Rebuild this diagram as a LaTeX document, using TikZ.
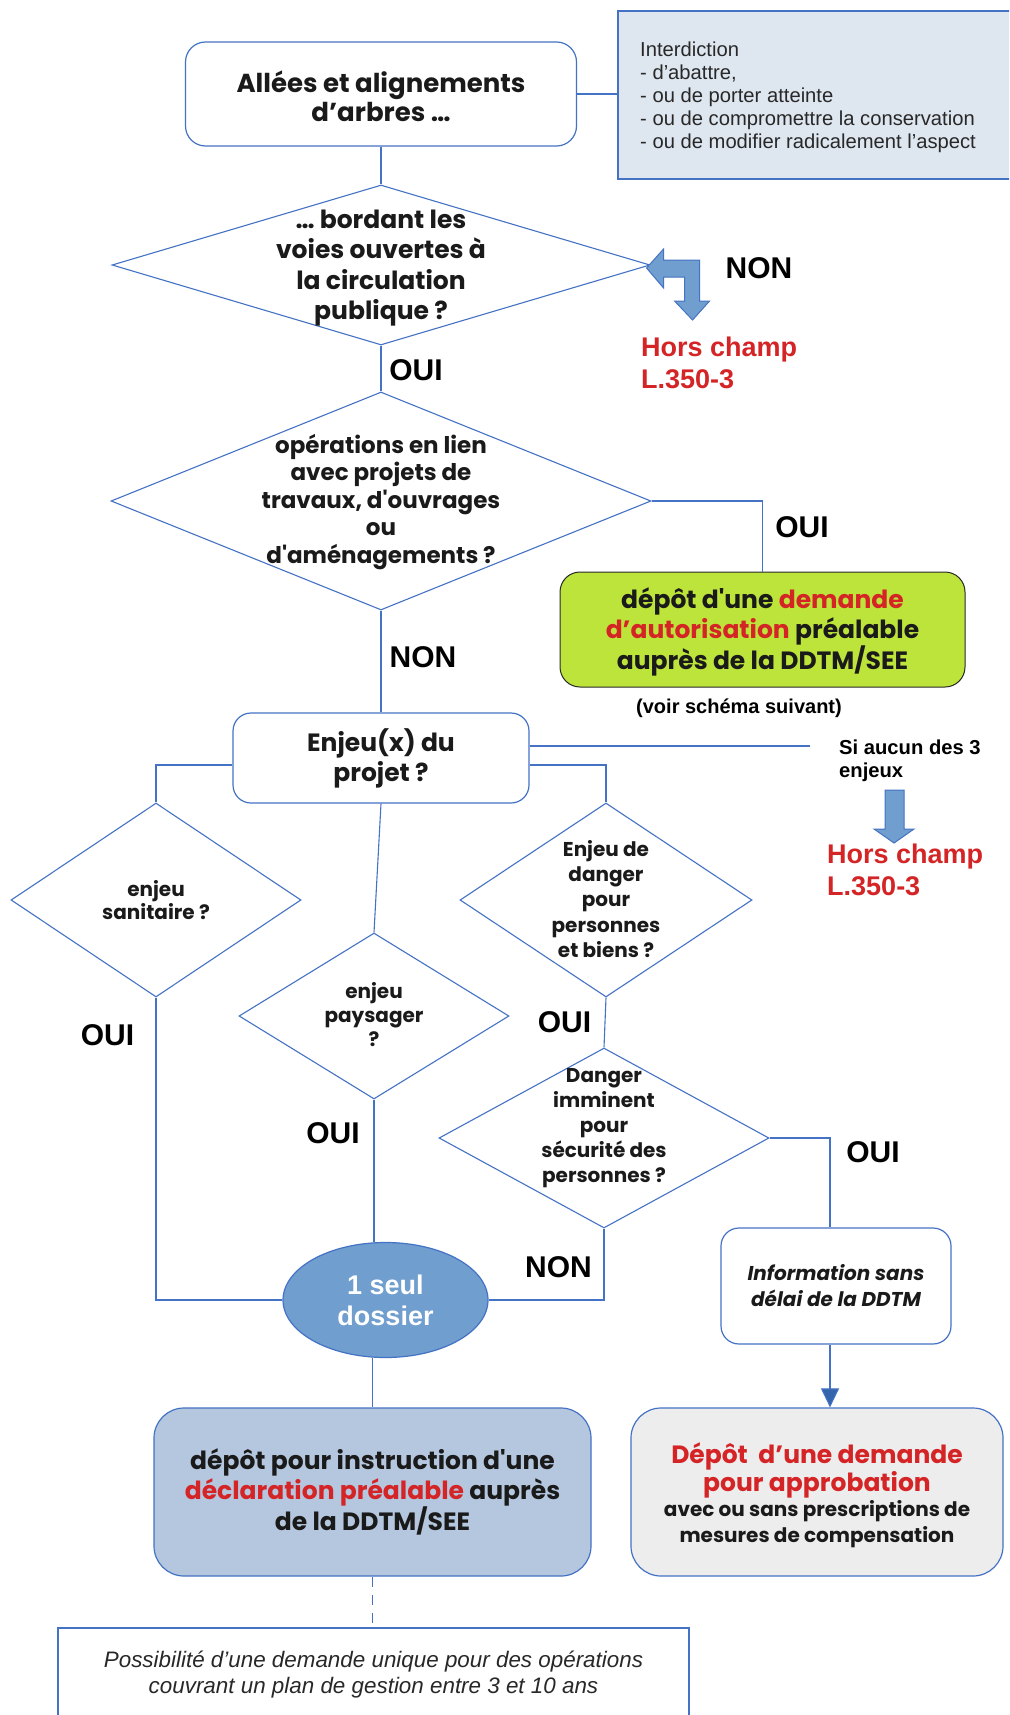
\documentclass[tikz,border=0pt]{standalone}
\usepackage{fontspec}
\setmainfont{Liberation Sans}
\newfontfamily\mar{Poppins}
\usetikzlibrary{shapes.geometric,arrows.meta,calc}
\newcommand{\fsz}[2]{\fontsize{#1}{#2}\selectfont}
\definecolor{lb}{RGB}{68,114,196}
\definecolor{rd}{RGB}{212,36,38}
\definecolor{gr}{RGB}{189,228,58}
\definecolor{ell}{RGB}{112,158,207}
\definecolor{dec}{RGB}{180,199,223}
\definecolor{gy}{RGB}{237,237,237}
\definecolor{intf}{RGB}{222,230,240}
\definecolor{txt}{RGB}{26,26,26}
\definecolor{dk}{RGB}{40,40,40}
\definecolor{tipc}{RGB}{52,100,172}
\begin{document}
\begin{tikzpicture}[x=1pt,y=-1pt,
  ln/.style={draw=lb, line width=1.1pt},
  dia/.style={diamond, draw=lb, line width=1.1pt, inner sep=0pt},
  rbox/.style={rectangle, draw=lb, line width=1.2pt, inner sep=0pt, align=center},
  mtxt/.style={inner sep=0pt, align=center, text=txt},
  yn/.style={inner sep=0pt, text=black, font=\fsz{30}{34}\bfseries},
  hc/.style={inner sep=0pt, align=left, text=rd, anchor=west, font=\fsz{27}{32}\bfseries},
  blk/.style={fill=ell, draw=lb, line width=1pt}]
\useasboundingbox (0,0) rectangle (1009,1715);
\clip (0,0) rectangle (1009,1715);
\fill[white] (0,0) rectangle (1009,1715);

% top box and interdiction
\node[rbox, rounded corners=20pt, minimum width=391pt, minimum height=104pt, fill=white] (top) at (381,94) {};
\node[mtxt, font=\mar\bfseries\fsz{26}{29}] (topt) at (381,96) {Allées et alignements\\d’arbres …};
\node[rectangle, draw=lb, line width=1.2pt, fill=intf, minimum width=393pt, minimum height=168pt, inner sep=0pt] (int) at (814.5,95) {};
\node[inner sep=0pt, anchor=west, align=left, font=\fsz{20.2}{23}, text={rgb,255:red,40;green,40;blue,40}]
  (intt) at (640,97.5) {Interdiction\\- d’abattre,\\- ou de porter atteinte\\- ou de compromettre la conservation\\- ou de modifier radicalement l’aspect};
\draw[ln] (top.east) -- (top.east -| int.west);

% diamond 1
\node[dia, minimum width=538pt, minimum height=160pt] (d1) at (381,265) {};
\node[mtxt, font=\mar\bfseries\fsz{25}{30.2}] (d1t) at (381,268) {… bordant les\\voies ouvertes à\\la circulation\\publique ?};
\draw[ln] (top.south) -- (d1.north);
\draw[blk] ($(d1.east)+(-4,3)$) -- ++(17,-19) -- ++(0,11) -- ++(36,0) -- ++(0,41) -- ++(10,0)
  -- ++(-17,19) -- ++(-18,-19) -- ++(10,0) -- ++(0,-24) -- ++(-21,0) -- ++(0,11) -- cycle;
\node[yn] (non1) at (759,268) {NON};
\node[hc] (hc1) at (641,363) {Hors champ\\L.350-3};
\node[yn] (oui1) at (416,370) {OUI};

% diamond 2
\node[dia, minimum width=540pt, minimum height=218pt] (d2) at (381,501) {};
\node[mtxt, font=\mar\bfseries\fsz{23}{27.5}] (d2t) at (381,502) {opérations en lien\\avec projets de\\travaux, d'ouvrages\\ou\\d'aménagements ?};
\draw[ln] (d1.south) -- (d2.north);

% autorisation
\node[rbox, draw=dk, line width=1pt, rounded corners=20pt, fill=gr, minimum width=405pt, minimum height=115pt] (aut) at (762.5,629.5) {};
\node[mtxt, font=\mar\bfseries\fsz{25}{30}] (autt) at (762.5,632)
  {dépôt d'une \textcolor{rd}{demande}\\\textcolor{rd}{d’autorisation} préalable\\auprès de la DDTM/SEE};
\draw[ln] (d2.east) -| (aut.north);
\node[yn] (oui2) at (802,527) {OUI};
\node[inner sep=0pt, font=\fsz{20}{23}\bfseries] (voir) at (739,708) {(voir schéma suivant)};

% enjeu box
\node[rbox, rounded corners=18pt, minimum width=296pt, minimum height=90pt, fill=white,
  font=\mar\bfseries\fsz{25}{30}, text=txt] (enj) at (381,758) {Enjeu(x) du\\projet ?};
\draw[ln] (d2.south) -- (enj.north);
\node[yn] (non2) at (423,657) {NON};

\coordinate (si) at (810,746);
\draw[ln] ($(enj.east)+(0,-12)$) -- (si);
\node[inner sep=0pt, anchor=west, align=left, font=\fsz{20.2}{23}\bfseries] (sitxt) at (839,760.5) {Si aucun des 3\\enjeux};
\draw[blk] (885,790) -- (904,790) -- (904,829) -- (914,829) -- (894,843) -- (874,829) -- (885,829) -- cycle;
\node[hc] (hc2) at (827,870) {Hors champ\\L.350-3};

% three diamonds
\node[dia, minimum width=290pt, minimum height=194pt] (san) at (156,900) {};
\node[mtxt, font=\mar\bfseries\fsz{20}{23}] (sant) at (156,900) {enjeu\\sanitaire ?};
\node[dia, minimum width=270pt, minimum height=166pt] (pay) at (374,1016) {};
\node[mtxt, font=\mar\bfseries\fsz{20}{24}] (payt) at (374,1015) {enjeu\\paysager\\?};
\node[dia, minimum width=292pt, minimum height=194pt] (dan) at (606,900) {};
\node[mtxt, font=\mar\bfseries\fsz{20}{25.2}] (dant) at (606,899) {Enjeu de\\danger\\pour\\personnes\\et biens ?};

\draw[ln] ($(enj.west)+(0,7)$) -| (san.north);
\draw[ln] ($(enj.east)+(0,7)$) -| (dan.north);
\draw[ln] (enj.south) -- (pay.north);

% imminent
\node[dia, minimum width=330pt, minimum height=180pt] (imm) at (604,1138) {};
\node[mtxt, font=\mar\bfseries\fsz{20}{25}] (immt) at (604,1128) {Danger\\imminent\\pour\\sécurité des\\personnes ?};
\draw[ln] (dan.south) -- (imm.north);
\node[yn] (oui5) at (564.5,1022) {OUI};

% dossier ellipse
\node[ellipse, fill=ell, draw=lb, line width=1.2pt, minimum width=205pt, minimum height=115pt, inner sep=0pt,
  align=center, text=white, font=\fsz{27}{31}\bfseries] (dos) at (385.5,1300) {1 seul\\dossier};
\draw[ln] (san.south) |- (dos.west);
\draw[ln] (pay.south) -- (pay.south |- dos.north);
\draw[ln] (imm.south) |- (dos.east);
\node[yn] (oui3) at (107.5,1035) {OUI};
\node[yn] (oui4) at (333,1133) {OUI};
\node[yn] (non3) at (558.5,1267) {NON};

% information
\node[rbox, rounded corners=18pt, minimum width=230pt, minimum height=116pt, fill=white,
  font=\mar\bfseries\itshape\fsz{20}{26}, text=txt] (info) at (836,1286) {Information sans\\délai de la DDTM};
\draw[ln] (imm.east) -| ($(info.north)+(-6,0)$);
\node[yn] (oui6) at (873,1152) {OUI};

% bottom boxes
\node[rbox, rounded corners=30pt, minimum width=437pt, minimum height=168pt, fill=dec,
  font=\mar\bfseries\fsz{25}{30}, text=txt] (decl) at (372.5,1492)
  {dépôt pour instruction d'une\\\textcolor{rd}{déclaration préalable} auprès\\de la DDTM/SEE};
\draw[ln] (decl.north |- dos.south) -- (decl.north);

\node[rbox, rounded corners=30pt, minimum width=372pt, minimum height=168pt, fill=gy] (dep) at (817,1492) {};
\node[mtxt, font=\mar\bfseries] (dept) at (817,1495)
  {{\fsz{25}{29}\textcolor{rd}{Dépôt\ \ d’une demande}}\\[0pt]
   {\fsz{25}{29}\textcolor{rd}{pour approbation}}\\[2pt]
   {\fsz{20}{25}avec ou sans prescriptions de}\\[3pt]
   {\fsz{20}{25}mesures de compensation}};
\coordinate (ia) at ($(info.south)+(-6,0)$);
\draw[draw=lb, line width=1.1pt, -{Triangle[width=18pt,length=19pt,fill=tipc]}] (ia) -- (ia |- dep.north);

\node[rectangle, draw=lb, line width=1.1pt, minimum width=631pt, minimum height=110pt, inner sep=0pt] (bot) at (373.5,1683) {};
\node[inner sep=0pt, align=center, font=\fsz{22.4}{26}\itshape, text={rgb,255:red,40;green,40;blue,40}] (bott) at (373.5,1675)
  {Possibilité d’une demande unique pour des opérations\\couvrant un plan de gestion entre 3 et 10 ans};
\draw[ln, dash pattern=on 10pt off 8pt] (decl.south) -- (decl.south |- bot.north);
\end{tikzpicture}
\end{document}
